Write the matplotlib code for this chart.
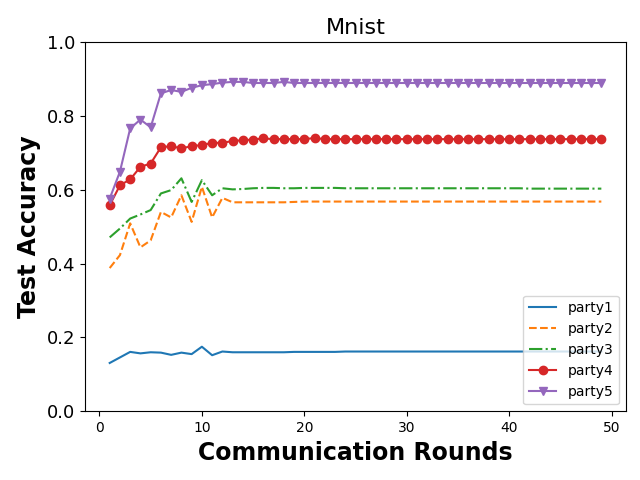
import numpy as np
from matplotlib import pyplot as plt

rounds = list(range(1, 50))

party1 = [0.131, 0.146, 0.161, 0.157, 0.160, 0.159, 0.153, 0.159, 0.155, 0.175,
          0.152, 0.162, 0.160, 0.160, 0.160, 0.160, 0.160, 0.160, 0.161, 0.161,
          0.161, 0.161, 0.161, 0.162, 0.162, 0.162, 0.162, 0.162, 0.162, 0.162,
          0.162, 0.162, 0.162, 0.162, 0.162, 0.162, 0.162, 0.162, 0.162, 0.162,
          0.162, 0.162, 0.162, 0.162, 0.162, 0.162, 0.162, 0.162, 0.162]
party2 = [0.388, 0.423, 0.509, 0.444, 0.463, 0.540, 0.525, 0.585, 0.513, 0.608,
          0.525, 0.578, 0.566, 0.566, 0.566, 0.566, 0.566, 0.566, 0.567, 0.568,
          0.568, 0.568, 0.568, 0.568, 0.568, 0.568, 0.568, 0.568, 0.568, 0.568,
          0.568, 0.568, 0.568, 0.568, 0.568, 0.568, 0.568, 0.568, 0.568, 0.568,
          0.568, 0.568, 0.568, 0.568, 0.568, 0.568, 0.568, 0.568, 0.568]
party3 = [0.471, 0.495, 0.522, 0.533, 0.545, 0.590, 0.599, 0.631, 0.567, 0.626,
          0.585, 0.604, 0.601, 0.602, 0.604, 0.605, 0.605, 0.604, 0.604, 0.605,
          0.605, 0.605, 0.605, 0.604, 0.604, 0.604, 0.604, 0.604, 0.604, 0.604,
          0.604, 0.604, 0.604, 0.604, 0.604, 0.604, 0.604, 0.604, 0.604, 0.604,
          0.604, 0.603, 0.603, 0.603, 0.603, 0.603, 0.603, 0.603, 0.603]
party4 = [0.558, 0.612, 0.628, 0.662, 0.671, 0.715, 0.718, 0.712, 0.718, 0.721,
          0.727, 0.727, 0.732, 0.734, 0.736, 0.739, 0.737, 0.737, 0.737, 0.737,
          0.740, 0.737, 0.737, 0.737, 0.737, 0.737, 0.737, 0.737, 0.737, 0.737,
          0.737, 0.737, 0.737, 0.737, 0.737, 0.737, 0.737, 0.737, 0.737, 0.737,
          0.737, 0.737, 0.737, 0.737, 0.737, 0.737, 0.737, 0.737, 0.737]
party5 = [0.576, 0.649, 0.766, 0.790, 0.769, 0.861, 0.870, 0.865, 0.876, 0.883,
          0.886, 0.890, 0.892, 0.892, 0.889, 0.889, 0.889, 0.892, 0.889, 0.889,
          0.889, 0.889, 0.889, 0.889, 0.889, 0.889, 0.889, 0.889, 0.889, 0.889,
          0.889, 0.889, 0.889, 0.889, 0.889, 0.889, 0.889, 0.889, 0.889, 0.889,
          0.889, 0.889, 0.889, 0.889, 0.889, 0.889, 0.889, 0.889, 0.889]

plt.figure(figsize=(6.4, 4.8), dpi=100)
plt.plot(rounds, party1, '-', label='party1')
plt.plot(rounds, party2, '--', label='party2')
plt.plot(rounds, party3, '-.', label='party3')
plt.plot(rounds, party4, '-o', label='party4')
plt.plot(rounds, party5, '-v', label='party5')

plt.ylim(0, 1.0)
plt.title("Mnist", fontsize=16)
plt.xlabel("Communication Rounds", fontsize=17, fontweight='bold')
plt.ylabel("Test Accuracy", fontsize=17, fontweight='bold')
plt.yticks(fontsize=13)
plt.xticks(fontsize=10)
plt.legend(loc='lower right')
plt.subplots_adjust(left=0.133, right=0.978, top=0.9125, bottom=0.143)
plt.savefig("out.png")
plt.close()
